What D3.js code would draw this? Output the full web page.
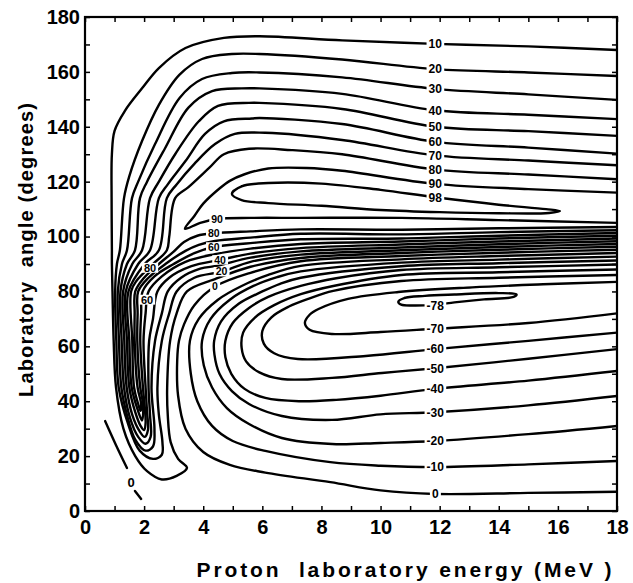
<!DOCTYPE html>
<html><head><meta charset="utf-8">
<script src="https://cdn.jsdelivr.net/npm/d3@7"></script>
<style>body{margin:0;background:#fff}text{font-family:"Liberation Sans",Arial,sans-serif;font-weight:bold}</style>
</head><body>
<svg id="c" width="633" height="583"></svg>
<script>
// ---- axes ----
const xDomain = [0, 18];
const yDomain = [0, 180];
const xTickLabels = [0, 2, 4, 6, 8, 10, 12, 14, 16, 18];
const yTickLabels = [0, 20, 40, 60, 80, 100, 120, 140, 160, 180];
const xTitle = "Proton  laboratory energy (MeV )";
const yTitle = "Laboratory  angle (degrees)";

// ---- contour lines: [energy MeV, angle deg] ----
const c10 = [[18,168],[15,169.3],[11.85,170.2],[8.7,171.5],[5.9,173],[4.7,172.4],[3.4,168.7],[2.5,161.4],[1.93,154],[1.35,145.8],[1.0,138.5],[0.91,130],[0.9,114],[0.91,95],[0.91,90],[0.93,80],[0.97,62],[1.05,45],[1.3,30],[1.7,20],[2.1,14.5],[2.6,11.5],[3.1,12.8],[3.45,15.7],[3.15,19],[2.9,25],[2.8,35],[2.78,45],[2.88,62],[3.1,72],[3.45,80],[4.4,84.5],[5.6,89.0],[7.3,92.2],[10.7,94.0],[14,95.2],[18,96.3]];
const c20 = [[18,158.5],[15,159.8],[11.85,161],[8.7,164.5],[5.9,166.5],[4.97,166.5],[3.96,164.7],[3.2,159],[2.5,148],[1.93,134.8],[1.5,122],[1.32,114],[1.18,95],[1.08,90],[1.02,80],[1.06,62],[1.14,45],[1.45,32],[1.85,22],[2.3,19],[2.6,20.5],[2.62,25],[2.5,35],[2.45,45],[2.6,62],[2.85,72],[3.1,80],[3.7,85],[4.62,87.2],[5.6,90.8],[7.3,93.4],[10.7,95.0],[14,96.2],[18,97.3]];
const c30 = [[18,149.8],[15,151.8],[11.85,153.8],[8.7,158],[5.9,159.8],[4.97,159.6],[3.96,157.4],[3.2,150.5],[2.37,133.7],[1.8,120],[1.59,114],[1.42,95],[1.25,90],[1.11,80],[1.15,62],[1.23,45],[1.42,35],[1.7,26],[2.05,22],[2.3,23.5],[2.35,30],[2.25,45],[2.37,62],[2.6,72],[2.8,80],[3.25,85],[3.9,88.3],[4.5,89.4],[5.6,92.3],[7.3,94.6],[10.7,96.0],[14,97.2],[18,98.3]];
const c40 = [[18,142.8],[15,144.4],[11.85,146],[8.7,152],[5.9,154],[5.3,154],[4.3,153],[3.5,147],[2.7,132],[2.1,120],[1.86,114],[1.69,95],[1.42,90],[1.2,80],[1.24,62],[1.32,45],[1.52,34],[1.8,27],[2.05,24.5],[2.22,27],[2.2,35],[2.15,45],[2.17,62],[2.3,70],[2.45,80],[2.85,85],[3.6,89.2],[4.57,91.5],[5.6,93.8],[7.3,95.8],[10.7,97.1],[14,98.2],[18,99.3]];
const c50 = [[18,136.7],[15,138.4],[11.85,140],[8.7,146.5],[5.9,148.7],[5.55,148.7],[4.5,147.6],[3.85,142],[3.05,130],[2.5,120],[2.2,114],[1.93,95],[1.6,90],[1.29,80],[1.33,62],[1.41,45],[1.6,35],[1.85,29],[2.02,27],[2.13,29.5],[2.1,36],[2.05,45],[1.98,62],[2.05,72],[2.15,80],[2.6,85.5],[3.4,90.8],[4.4,93.6],[5.6,95.6],[7.3,97.3],[10.7,98.2],[14,99.3],[18,100.3]];
const c60 = [[18,130.2],[15,132.4],[11.85,134.5],[8.7,141],[5.9,143.2],[5.65,143],[4.7,142],[4.06,137.4],[3.4,127.5],[2.8,119],[2.5,114],[2.2,95],[1.8,90],[1.38,80],[1.42,62],[1.5,45],[1.7,36],[1.88,31],[2.0,29.5],[2.05,32],[2.02,38],[1.96,45],[1.87,62],[1.9,72],[1.95,80],[2.35,85.5],[3.0,90],[3.7,94],[4.36,96.2],[5.6,97.6],[7.3,99.0],[10.7,99.3],[14,100.3],[18,101.3]];
const c70 = [[18,126],[15,127.7],[11.85,129.6],[8.7,135.2],[6.1,137.8],[5.07,137.4],[4.4,133.7],[3.7,126.5],[3.1,119],[2.77,114],[2.5,95],[2.02,90],[1.47,80],[1.5,62],[1.58,45],[1.78,37],[1.93,33],[1.97,36],[1.95,40],[1.87,45],[1.77,62],[1.78,72],[1.8,80],[2.15,85],[2.72,90],[3.4,94.8],[3.85,97],[4.4,98.4],[5.6,99.6],[7.3,101.0],[10.7,100.8],[14,101.6],[18,102.3]];
const c80 = [[18,120.9],[15,122.6],[11.85,124.4],[8.7,130],[7.0,131.5],[5.55,132],[4.7,130],[4.2,125],[3.5,118],[3.05,114],[2.85,100],[2.77,95],[2.3,90],[1.75,84],[1.56,80],[1.6,62],[1.66,45],[1.8,39],[1.88,36.5],[1.9,39],[1.78,45],[1.68,62],[1.68,72],[1.7,80],[2.0,85],[2.5,90],[3.0,94.5],[3.35,98],[3.8,100.3],[4.36,101.2],[5.6,101.9],[7.3,102.6],[10.7,102.5],[14,103.0],[18,103.5]];
const c90 = [[18,105],[14,106],[10.7,106.8],[7.3,106.8],[5.6,106.8],[4.47,106.4],[3.9,105],[3.38,102.8],[3.7,107.5],[4.0,112],[4.57,117.7],[4.9,120.3],[5.4,122.7],[6.2,124.8],[7.5,125],[8.7,124],[11.85,119.2],[15,117.3],[18,116]];
const c98 = [[4.97,115.5],[5.3,118.3],[6.2,119.5],[8.0,119.3],[10,117],[11.85,114.3],[14,111.6],[15.6,110],[16.07,109.3],[15.7,108.6],[14,108.5],[12,108.9],[10,109.7],[8,111.2],[6.2,112.2],[5.3,113.3]];
const n0 = [[18,7],[15,6.6],[11.85,6.2],[10,7.5],[8.3,10.5],[6.1,14],[4.9,16.8],[4.0,21.5],[3.4,30],[3.15,42],[3.12,55],[3.18,62],[3.35,68],[3.7,75],[4.4,81.8],[5.6,86.8],[7.3,91.0],[10.7,92.9],[14,94.1],[18,95.2]];
const n10 = [[18,18.2],[15,17],[11.85,16],[10,16.5],[8.3,17.8],[6.1,21.9],[5.0,25.5],[4.3,31],[3.8,40],[3.58,50],[3.55,62],[3.85,70],[4.5,77],[5.3,82],[6.2,86],[7.3,89.3],[10.7,91.7],[14,92.9],[18,94.0]];
const n20 = [[18,31],[15,28],[11.85,25.5],[10,24.8],[8.36,24.4],[6.66,26.6],[5.55,31.7],[4.8,37.5],[4.3,45],[4.02,53],[3.96,62],[4.25,70],[4.9,77],[5.7,82],[6.5,85.2],[7.3,87.3],[10.7,90.5],[14,91.6],[18,92.7]];
const n30 = [[18,41.9],[15,38.5],[11.85,36],[10,35.2],[8.36,33.2],[6.66,34.6],[5.55,39],[4.97,43.7],[4.55,50],[4.38,57],[4.37,62],[4.6,69],[5.2,75.5],[6.0,80],[6.6,82.8],[7.3,85],[10.7,89.2],[14,90.3],[18,91.3]];
const n40 = [[18,51],[15,47.5],[11.85,44.5],[10,42],[8.5,40.5],[7.24,40],[6.1,41.2],[5.4,44.5],[4.95,50],[4.75,56],[4.75,62],[5.0,68.5],[5.55,74],[6.2,78],[7.3,82],[8.5,84.8],[10.7,87.8],[14,88.8],[18,89.8]];
const n50 = [[18,59],[15,55.5],[11.85,52],[10.05,50.3],[8.36,48.5],[6.66,48.1],[5.9,50.5],[5.45,54.5],[5.3,59.4],[5.35,65],[5.75,70.5],[6.4,75],[7.3,79],[8.4,82],[10.7,86.0],[14,87.0],[18,88.0]];
const n60 = [[18,65],[15,62],[11.85,59],[9.5,56.5],[7.2,55.4],[6.4,57.5],[6.05,61],[6.0,65.6],[6.3,70.5],[6.9,74.5],[7.6,77.5],[8.4,80.2],[10.7,83.8],[14,85.0],[18,86.0]];
const n70 = [[18,72],[15,68.5],[11.85,66.4],[10,65.2],[8.36,64.5],[7.6,66],[7.44,68.5],[7.6,71.5],[7.9,73.6],[8.9,77.3],[10.6,79.8],[13.1,81.5],[15.5,82.6],[18,83.5]];
const n78 = [[10.6,76.2],[10.8,77.6],[11.5,78.4],[12.5,78.9],[14.0,79.4],[14.6,78.9],[14.5,78.0],[13.5,77.1],[12.5,76.0],[11.85,75.2],[11.1,74.9],[10.7,75.2]];
const edge0a = [[0.68,32.8],[1.05,24],[1.42,15.7]];
const edge0b = [[1.69,7.3],[1.9,4.4]];

const openLines = [c10,c20,c30,c40,c50,c60,c70,c80,c90,n0,n10,n20,n30,n40,n50,n60,n70,edge0a,edge0b];
const closedLines = [c98, n78];

// ---- contour labels: [text, energy, angle] ----
const labelsRight = [["10",11.85,170.2],["20",11.85,161],["30",11.85,153.8],["40",11.85,146],["50",11.85,140],["60",11.85,134.5],["70",11.85,129.6],["80",11.85,124.4],["90",11.85,119.2],["98",11.85,114],
  ["-78",11.85,74.9],["-70",11.85,66.4],["-60",11.85,59],["-50",11.85,52],["-40",11.85,44.5],["-30",11.85,36],["-20",11.85,25.5],["-10",11.85,16],["0",11.85,6.2]];
const labelsMid = [["90",4.47,106.4],["80",4.36,101.2],["60",4.36,96.2],["40",4.57,91.5],["20",4.62,87.2],["0",4.4,81.8]];
const labelsInner = [["80",2.2,88.6],["60",2.1,77]];
const labelsEdge = [["0",1.56,10.6]];

// ---- drawing ----
const svg = d3.select("#c");
const L = 85, R = 617, T = 17, B = 511;
const x = d3.scaleLinear(xDomain, [L, R]);
const y = d3.scaleLinear(yDomain, [B, T]);

svg.append("clipPath").attr("id","clip").append("rect")
  .attr("x", L).attr("y", T).attr("width", R-L).attr("height", B-T);

const line = d3.line().x(d => x(d[0])).y(d => y(d[1])).curve(d3.curveCatmullRom.alpha(0.5));
const lineClosed = d3.line().x(d => x(d[0])).y(d => y(d[1])).curve(d3.curveCatmullRomClosed.alpha(0.5));

const cg = svg.append("g").attr("clip-path","url(#clip)")
  .attr("fill","none").attr("stroke","#000").attr("stroke-width",2.4)
  .attr("stroke-linejoin","round").attr("stroke-linecap","round");
openLines.forEach(p => cg.append("path").attr("d", line(p)));
closedLines.forEach(p => cg.append("path").attr("d", lineClosed(p)));

// labels with white knock-out
const lg = svg.append("g");
function addLabel(d, size){
  const g = lg.append("g");
  const t = g.append("text").attr("x", x(d[1])).attr("y", y(d[2]) + size*0.36)
    .attr("text-anchor","middle").attr("font-size", size).text(d[0]);
  const bb = t.node().getBBox();
  g.insert("rect","text").attr("x", bb.x-2).attr("y", y(d[2]) - size*0.45)
    .attr("width", bb.width+4).attr("height", size*0.9).attr("fill","#fff");
}
labelsRight.forEach(d => addLabel(d, 12));
labelsMid.forEach(d => addLabel(d, 10.5));
labelsInner.forEach(d => addLabel(d, 11));
labelsEdge.forEach(d => addLabel(d, 13));

// axes (inward ticks on all sides)
const fmtX = d => xTickLabels.includes(d) ? d : "";
const fmtY = d => yTickLabels.includes(d) ? d : "";
svg.append("g").attr("transform",`translate(0,${B})`)
  .call(d3.axisBottom(x).tickValues(d3.range(0,18.5,1)).tickSize(-5).tickPadding(9).tickFormat(fmtX));
svg.append("g").attr("transform",`translate(${L},0)`)
  .call(d3.axisLeft(y).tickValues(d3.range(0,181,10)).tickSize(-5).tickPadding(5).tickFormat(fmtY));
svg.append("g").attr("transform",`translate(0,${T})`)
  .call(d3.axisTop(x).tickValues(d3.range(0,18.5,1)).tickSize(-5).tickFormat(""));
svg.append("g").attr("transform",`translate(${R},0)`)
  .call(d3.axisRight(y).tickValues(d3.range(0,181,10)).tickSize(-5).tickFormat(""));
svg.selectAll(".domain").remove();
svg.selectAll(".tick line").attr("stroke","#000").attr("stroke-width",1.5);
svg.selectAll(".tick text").attr("font-size",20).attr("fill","#000")
  .style("font-family","'Liberation Sans',Arial,sans-serif").style("font-weight","bold");

svg.append("rect").attr("x",L).attr("y",T).attr("width",R-L).attr("height",B-T)
  .attr("fill","none").attr("stroke","#000").attr("stroke-width",2.2);

// titles
svg.append("text").attr("x", 404).attr("y", 577).attr("text-anchor","middle")
  .attr("font-size",21).attr("textLength",415).attr("lengthAdjust","spacing")
  .style("white-space","pre").text(xTitle);
svg.append("text").attr("transform","translate(33,250) rotate(-90)").attr("text-anchor","middle")
  .attr("font-size",20).attr("textLength",294).attr("lengthAdjust","spacing")
  .style("white-space","pre").text(yTitle);
</script>
</body></html>
